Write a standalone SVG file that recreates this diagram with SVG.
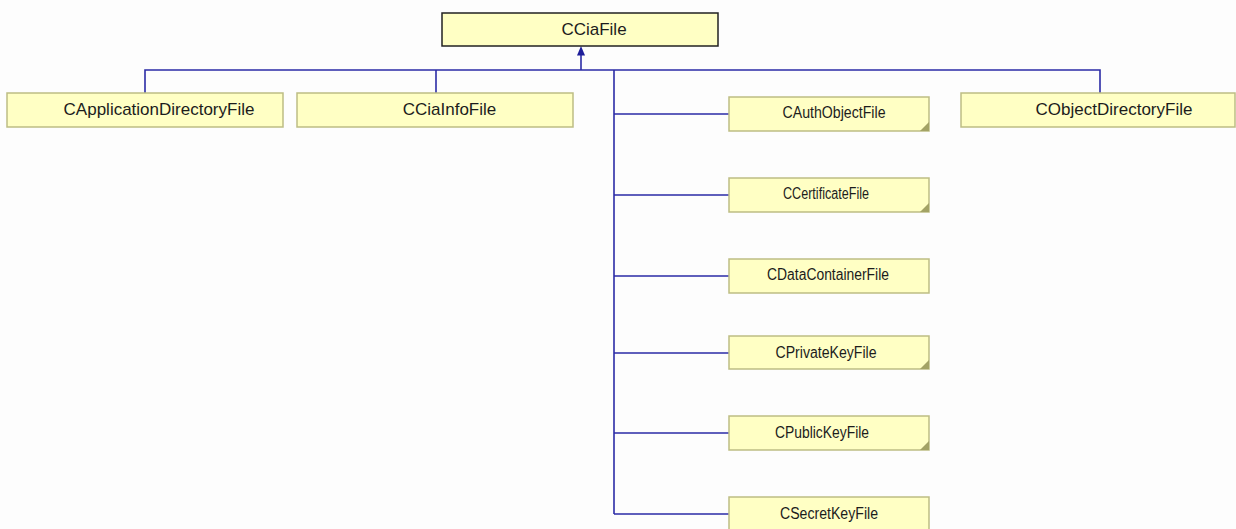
<svg xmlns="http://www.w3.org/2000/svg" width="1236" height="529" viewBox="0 0 1236 529">
  <defs>
    <style>
      .box { fill: #ffffc4; stroke: #bdbd84; stroke-width: 1.5; }
      .root { fill: #ffffc4; stroke: #222222; stroke-width: 1.5; }
      .corner { fill: #a3a365; }
      .lbl { font-family: "Liberation Sans", Arial, sans-serif; font-size: 17px; fill: #1c1c1c; text-anchor: middle; }
      .sm { font-family: "Liberation Sans", Arial, sans-serif; font-size: 16px; fill: #1c1c1c; text-anchor: middle; }
      .wire { fill: none; stroke: #2b2ba6; stroke-width: 1.6; }
    </style>
  </defs>

  <rect x="0" y="0" width="1236" height="529" fill="#fdfdfd"/>

  <!-- inheritance connectors -->
  <g id="connectors">
    <path class="wire" d="M581 54 V70"/>
    <path class="wire" d="M145 93 V70 H1100 V93"/>
    <path class="wire" d="M436 70 V93"/>
    <path class="wire" d="M614 70 V514"/>
    <path class="wire" d="M614 114 H729 M614 195 H729 M614 276 H729 M614 353 H729 M614 433 H729 M614 514 H729"/>
    <polygon points="581,46 577,55.5 585,55.5" fill="#1f1f9a"/>
  </g>

  <g id="CCiaFile">
    <rect class="root" x="442" y="13" width="276" height="33"/>
    <text class="lbl" x="594" y="34.5">CCiaFile</text>
  </g>

  <g id="CApplicationDirectoryFile">
    <rect class="box" x="7" y="93" width="276" height="34"/>
    <text class="lbl" x="159" y="115">CApplicationDirectoryFile</text>
  </g>

  <g id="CCiaInfoFile">
    <rect class="box" x="297" y="93" width="276" height="34"/>
    <text class="lbl" x="449.5" y="115">CCiaInfoFile</text>
  </g>

  <g id="CObjectDirectoryFile">
    <rect class="box" x="961" y="93" width="274" height="34"/>
    <text class="lbl" x="1114" y="115">CObjectDirectoryFile</text>
  </g>

  <g id="CAuthObjectFile">
    <rect class="box" x="729" y="97" width="200" height="34"/>
    <polygon class="corner" points="929,122 929,131 920,131"/>
    <text class="sm" x="834" y="118" textLength="103" lengthAdjust="spacingAndGlyphs">CAuthObjectFile</text>
  </g>

  <g id="CCertificateFile">
    <rect class="box" x="729" y="178" width="200" height="34"/>
    <polygon class="corner" points="929,203 929,212 920,212"/>
    <text class="sm" x="826" y="199" textLength="86" lengthAdjust="spacingAndGlyphs">CCertificateFile</text>
  </g>

  <g id="CDataContainerFile">
    <rect class="box" x="729" y="259" width="200" height="34"/>
    <text class="sm" x="828" y="280" textLength="122" lengthAdjust="spacingAndGlyphs">CDataContainerFile</text>
  </g>

  <g id="CPrivateKeyFile">
    <rect class="box" x="729" y="336" width="200" height="33"/>
    <polygon class="corner" points="929,360 929,369 920,369"/>
    <text class="sm" x="826" y="357.5" textLength="101" lengthAdjust="spacingAndGlyphs">CPrivateKeyFile</text>
  </g>

  <g id="CPublicKeyFile">
    <rect class="box" x="729" y="416" width="200" height="34"/>
    <polygon class="corner" points="929,441 929,450 920,450"/>
    <text class="sm" x="822" y="437.5" textLength="94" lengthAdjust="spacingAndGlyphs">CPublicKeyFile</text>
  </g>

  <g id="CSecretKeyFile">
    <rect class="box" x="729" y="497" width="200" height="34"/>
    <text class="sm" x="829" y="518.5" textLength="98" lengthAdjust="spacingAndGlyphs">CSecretKeyFile</text>
  </g>
</svg>
